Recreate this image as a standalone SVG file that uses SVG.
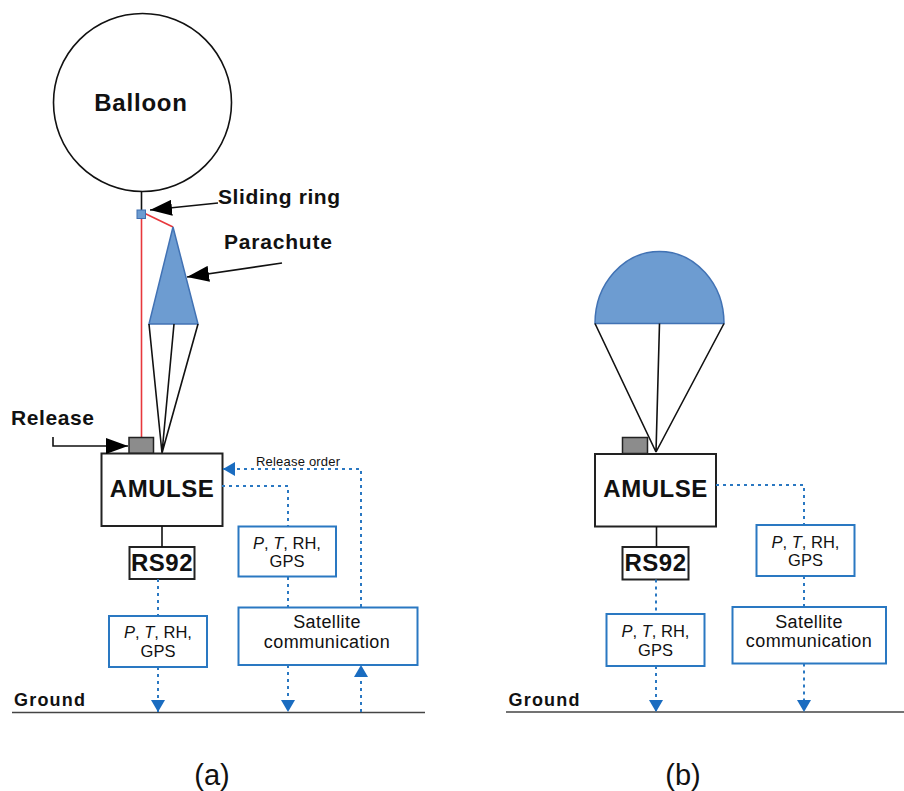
<svg xmlns="http://www.w3.org/2000/svg" width="904" height="791" viewBox="0 0 904 791">
<defs>
<style>
text{font-family:"Liberation Sans",Arial,sans-serif;fill:#111}
.gr{font-size:18px;font-weight:bold;letter-spacing:1.2px}
.lbl{font-size:21px;font-weight:bold;letter-spacing:0.6px}
.big{font-size:24px;font-weight:bold;text-anchor:middle;letter-spacing:0.5px}
.m{font-size:16.5px;text-anchor:middle}
.sat{font-size:18px;text-anchor:middle;letter-spacing:0.4px}
.blk{fill:#fff;stroke:#222;stroke-width:2}
.blue{fill:#fff;stroke:#2a78c2;stroke-width:2}
.dot{fill:none;stroke:#2a78c2;stroke-width:2;stroke-dasharray:3 4}
.ln{fill:none;stroke:#111;stroke-width:1.6}
.red{fill:none;stroke:#e8383c;stroke-width:1.6}
.chute{fill:#6d9cd1;stroke:#4172b4;stroke-width:1.5}
.rel{fill:#8c8c8c;stroke:#222;stroke-width:1.5}
.gnd{stroke:#444;stroke-width:1.5}
</style>
<marker id="ab" markerUnits="userSpaceOnUse" markerWidth="22" markerHeight="16" refX="22" refY="8" orient="auto"><path d="M0,0 L22,8 L0,16 z" fill="#000"/></marker>
<marker id="au" markerUnits="userSpaceOnUse" markerWidth="14" markerHeight="14" refX="12" refY="7" orient="auto"><path d="M0,0 L12,7 L0,14 z" fill="#1a6cc0"/></marker>
</defs>

<g id="balloon">
<circle cx="142.5" cy="102.5" r="89" fill="#fff" stroke="#111" stroke-width="1.6"/>
<text x="141" y="111" class="big" style="letter-spacing:0.8px">Balloon</text>
</g>

<g id="tether-a">
<line x1="141.5" y1="191.5" x2="141.5" y2="210" class="ln"/>
<line x1="141.5" y1="218.5" x2="141.5" y2="437.5" class="red"/>
<line x1="145" y1="213.5" x2="173" y2="227" class="red"/>
</g>

<g id="sliding-ring">
<rect x="137" y="210" width="8.5" height="8.5" fill="#6d9cd1" stroke="#3f6fb0" stroke-width="1"/>
<text x="218" y="204" class="lbl">Sliding ring</text>
</g>

<g id="parachute-a">
<polygon points="173,227 198,324 149,324" class="chute"/>
<path d="M149,324 L162,453 M174,324 L162,453 M198,324 L162,453" class="ln"/>
<text x="224" y="249" class="lbl" style="letter-spacing:0.8px">Parachute</text>
</g>

<g id="release">
<rect x="129" y="437.5" width="24.5" height="16" class="rel"/>
<text x="11" y="425" class="lbl">Release</text>
</g>

<g id="amulse-a">
<rect x="101.5" y="453.5" width="121" height="72.5" class="blk"/>
<text x="162" y="497" class="big">AMULSE</text>
</g>

<g id="rs92-a">
<rect x="129.5" y="547" width="65" height="32" class="blk"/>
<text x="162" y="570.5" class="big">RS92</text>
</g>

<g id="data-rs92-a">
<rect x="109" y="616" width="98" height="51" class="blue"/>
<text x="158" y="638" class="m"><tspan font-style="italic">P</tspan>, <tspan font-style="italic">T</tspan>, RH,</text>
<text x="158" y="657" class="m">GPS</text>
</g>

<g id="data-amulse-a">
<rect x="238.5" y="526.5" width="97.5" height="50" class="blue"/>
<text x="287" y="549" class="m"><tspan font-style="italic">P</tspan>, <tspan font-style="italic">T</tspan>, RH,</text>
<text x="287" y="567" class="m">GPS</text>
</g>

<g id="satellite-a">
<rect x="238.5" y="607.5" width="179" height="57.5" class="blue"/>
<text x="327" y="628" class="sat">Satellite</text>
<text x="327" y="648" class="sat">communication</text>
</g>

<g id="ground-a">
<line x1="12" y1="712.5" x2="425" y2="712.5" class="gnd"/>
<text x="14" y="706" class="gr">Ground</text>
</g>

<g id="parachute-b">
<path d="M595,323.5 A64.5,72 0 0 1 724,323.5 Z" class="chute"/>
<path d="M595,323.5 L656,452 M659.5,323.5 L656,452 M724,323.5 L656,452" class="ln"/>
<rect x="622.5" y="437.5" width="25" height="16" class="rel"/>
</g>

<g id="amulse-b">
<rect x="595" y="454" width="121" height="72.5" class="blk"/>
<text x="655.5" y="497" class="big">AMULSE</text>
</g>

<g id="rs92-b">
<rect x="622.5" y="547" width="66" height="32.5" class="blk"/>
<text x="655.5" y="570.5" class="big">RS92</text>
</g>

<g id="data-rs92-b">
<rect x="606.5" y="614" width="98" height="52" class="blue"/>
<text x="655.5" y="637" class="m"><tspan font-style="italic">P</tspan>, <tspan font-style="italic">T</tspan>, RH,</text>
<text x="655.5" y="656" class="m">GPS</text>
</g>

<g id="data-amulse-b">
<rect x="756.5" y="525" width="98" height="51" class="blue"/>
<text x="805.5" y="548" class="m"><tspan font-style="italic">P</tspan>, <tspan font-style="italic">T</tspan>, RH,</text>
<text x="805.5" y="566" class="m">GPS</text>
</g>

<g id="satellite-b">
<rect x="732.5" y="607" width="153.5" height="56.5" class="blue"/>
<text x="809" y="628" class="sat">Satellite</text>
<text x="809" y="647" class="sat">communication</text>
</g>

<g id="ground-b">
<line x1="506" y1="712" x2="904" y2="712" class="gnd"/>
<text x="508.5" y="705.5" class="gr">Ground</text>
</g>

<g id="captions">
<text x="212" y="785" font-size="29" text-anchor="middle">(a)</text>
<text x="683" y="785" font-size="29" text-anchor="middle">(b)</text>
</g>

<g id="connectors">
<line x1="218" y1="203" x2="150" y2="210" class="ln" marker-end="url(#ab)"/>
<line x1="282" y1="263" x2="187" y2="277" class="ln" marker-end="url(#ab)"/>
<path d="M53,437 V446 H128" class="ln" marker-end="url(#ab)"/>
<line x1="162" y1="526" x2="162" y2="547" class="ln"/>
<line x1="158" y1="579" x2="158" y2="616" class="dot"/>
<line x1="158" y1="667" x2="158" y2="712" class="dot" marker-end="url(#au)"/>
<path d="M222,486 H288 V526" class="dot"/>
<line x1="288" y1="577" x2="288" y2="607" class="dot"/>
<line x1="288" y1="665" x2="288" y2="712" class="dot" marker-end="url(#au)"/>
<line x1="361" y1="712" x2="361" y2="665" class="dot" marker-end="url(#au)"/>
<path d="M361,607 V469 H223" class="dot" marker-end="url(#au)"/>
<text x="256" y="466" font-size="13" letter-spacing="0.2">Release order</text>
<line x1="656.5" y1="526.5" x2="656.5" y2="547" class="ln"/>
<line x1="656" y1="579.5" x2="656" y2="614" class="dot"/>
<line x1="656" y1="666" x2="656" y2="712" class="dot" marker-end="url(#au)"/>
<path d="M716,485 H804 V525" class="dot"/>
<line x1="804" y1="576" x2="804" y2="607" class="dot"/>
<line x1="804" y1="663.5" x2="804" y2="712" class="dot" marker-end="url(#au)"/>
</g>
</svg>
